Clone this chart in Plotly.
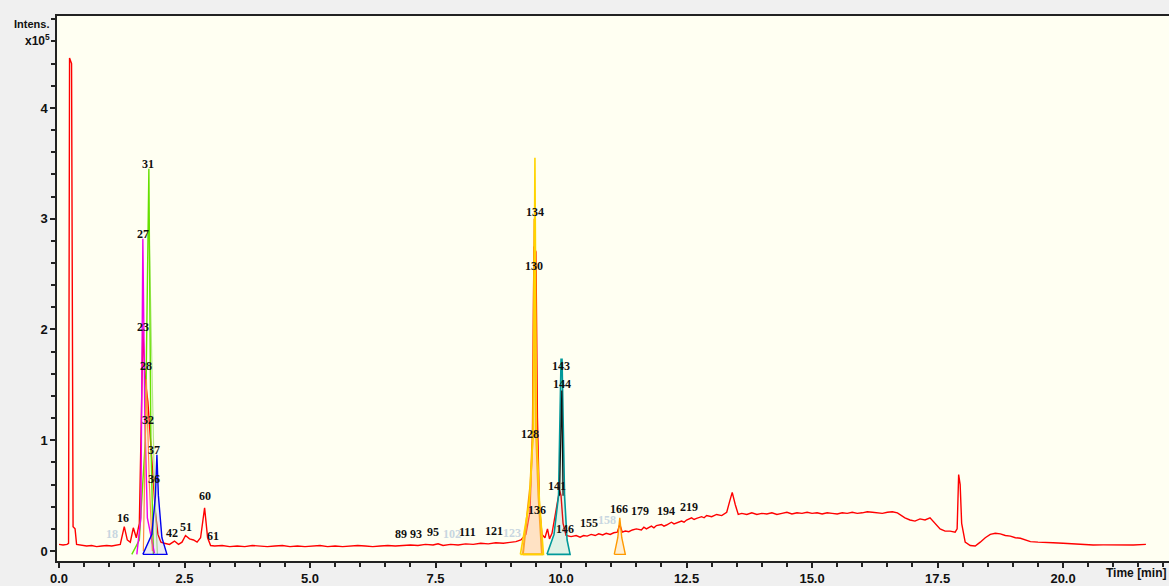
import plotly.graph_objects as go

# ---- Total ion chromatogram (red), time in min, intensity in 1e5 counts ----
tic_time = [0.00, 0.08, 0.16, 0.19, 0.21, 0.25, 0.28, 0.32, 0.35,
            0.45, 0.55, 0.65, 0.75, 0.85, 0.95, 1.05, 1.15, 1.22, 1.30, 1.36,
            1.42, 1.48, 1.54, 1.60, 1.64, 1.67, 1.70, 1.73, 1.77, 1.80, 1.84,
            1.88, 1.92, 1.97, 2.03, 2.10, 2.20, 2.30, 2.38, 2.45, 2.52, 2.60,
            2.68, 2.75, 2.82, 2.90, 2.96, 3.02,
            3.10, 3.25, 3.40, 3.55, 3.70, 3.85, 4.00, 4.15, 4.30, 4.45, 4.60,
            4.75, 4.90, 5.05, 5.20, 5.35, 5.50, 5.65, 5.80, 5.95, 6.10, 6.25,
            6.40, 6.55, 6.70, 6.85, 7.00, 7.15, 7.30, 7.45, 7.55, 7.65, 7.80,
            7.95, 8.10, 8.25, 8.40, 8.55, 8.70, 8.85, 9.00, 9.10, 9.20, 9.30,
            9.38, 9.43, 9.46, 9.50, 9.53, 9.57, 9.62, 9.68, 9.73, 9.77, 9.82,
            9.87, 9.92, 9.97, 10.00, 10.04, 10.10, 10.20, 10.30, 10.38, 10.45,
            10.52, 10.60, 10.68, 10.75, 10.83, 10.90, 10.98, 11.05, 11.12,
            11.17, 11.22, 11.28, 11.35, 11.42, 11.50, 11.60, 11.65, 11.70,
            11.80, 11.85, 11.90, 12.00, 12.05, 12.10, 12.20, 12.25, 12.30,
            12.40, 12.45, 12.50, 12.60, 12.65, 12.70, 12.80, 12.85, 12.90,
            13.00, 13.10, 13.20, 13.30, 13.36, 13.41, 13.47,
            13.53, 13.60, 13.70, 13.80, 13.90, 14.00, 14.10, 14.20, 14.30,
            14.40, 14.50, 14.60, 14.70, 14.80, 14.90, 15.00, 15.10, 15.20,
            15.30, 15.40, 15.50, 15.60, 15.70, 15.80, 15.90, 16.00, 16.10,
            16.20, 16.30, 16.40, 16.50, 16.60, 16.70, 16.75, 16.85, 16.95,
            17.05, 17.15, 17.25, 17.35, 17.45, 17.55, 17.65, 17.75, 17.85,
            17.89, 17.92, 17.95, 17.98, 18.05, 18.15, 18.25, 18.35, 18.45,
            18.55, 18.65, 18.75, 18.85, 18.95, 19.05, 19.15, 19.25, 19.35,
            19.50, 19.65, 19.80, 20.00, 20.20, 20.40, 20.60, 20.80, 21.00,
            21.20, 21.40, 21.65]
tic_int = [0.060, 0.055, 0.060, 0.070, 4.45, 4.40, 0.22, 0.20, 0.060,
           0.050, 0.045, 0.050, 0.040, 0.045, 0.050, 0.045, 0.050, 0.060, 0.22, 0.10,
           0.080, 0.21, 0.12, 0.25, 1.20, 2.00, 1.70, 1.50, 1.35, 1.15, 0.90,
           0.60, 0.35, 0.15, 0.080, 0.070, 0.060, 0.090, 0.060, 0.080, 0.14, 0.11,
           0.10, 0.080, 0.12, 0.39, 0.12, 0.050,
           0.045, 0.050, 0.040, 0.045, 0.040, 0.050, 0.045, 0.040, 0.045, 0.050, 0.040,
           0.045, 0.040, 0.045, 0.050, 0.040, 0.045, 0.040, 0.045, 0.050, 0.045, 0.040,
           0.045, 0.050, 0.045, 0.050, 0.055, 0.050, 0.060, 0.055, 0.065, 0.050, 0.060,
           0.055, 0.065, 0.060, 0.070, 0.065, 0.075, 0.070, 0.080, 0.085, 0.10, 0.15,
           0.35, 1.00, 2.75, 2.70, 1.20, 0.40, 0.15, 0.12, 0.20, 0.11, 0.16,
           0.30, 0.40, 0.55, 0.50, 0.25, 0.14, 0.13, 0.14, 0.125, 0.14,
           0.135, 0.15, 0.14, 0.155, 0.145, 0.16, 0.15, 0.165, 0.17,
           0.24, 0.17, 0.18, 0.175, 0.19, 0.20, 0.19, 0.215, 0.20,
           0.225, 0.21, 0.23, 0.24, 0.225, 0.235, 0.26, 0.245, 0.255,
           0.27, 0.26, 0.28, 0.30, 0.285, 0.295, 0.31, 0.30, 0.32,
           0.31, 0.33, 0.32, 0.35, 0.45, 0.53, 0.42,
           0.33, 0.34, 0.33, 0.345, 0.33, 0.34, 0.335, 0.345, 0.33,
           0.34, 0.35, 0.335, 0.345, 0.34, 0.35, 0.34, 0.345, 0.335,
           0.345, 0.34, 0.335, 0.345, 0.34, 0.35, 0.34, 0.345, 0.355,
           0.35, 0.345, 0.34, 0.35, 0.355, 0.345, 0.33, 0.30, 0.28,
           0.27, 0.29, 0.28, 0.30, 0.25, 0.20, 0.18, 0.18, 0.17,
           0.20, 0.69, 0.60, 0.25, 0.08, 0.05, 0.045, 0.08, 0.12,
           0.15, 0.16, 0.155, 0.14, 0.135, 0.12, 0.115, 0.10, 0.085,
           0.080, 0.080, 0.075, 0.070, 0.065, 0.058, 0.055, 0.056, 0.055,
           0.056, 0.055, 0.060]

# ---- Extracted ion chromatograms (closed outlines) ----
eic_green_t = [1.45, 1.60, 1.72, 1.79, 1.83, 1.88]
eic_green_v = [-0.03, 0.10, 1.00, 3.45, 1.00, -0.03]
eic_palegreen_t = [1.79, 1.84, 1.90, 1.96]
eic_palegreen_v = [3.00, 2.00, 0.60, -0.03]
eic_magenta_t = [1.55, 1.63, 1.67, 1.71, 1.76, 1.90]
eic_magenta_v = [-0.03, 0.30, 2.82, 1.20, 0.30, -0.02]
eic_salmon_t = [1.68, 1.74, 1.80, 1.86]
eic_salmon_v = [0.00, 1.55, 0.60, 0.00]
eic_blue_t = [1.67, 1.85, 1.92, 1.95, 1.98, 2.05, 2.15, 1.67]
eic_blue_v = [-0.03, 0.15, 0.50, 0.87, 0.50, 0.12, -0.03, -0.03]
eic_orange_t = [9.24, 9.39, 9.44, 9.47, 9.50, 9.55, 9.62, 9.24]
eic_orange_v = [-0.03, 0.60, 1.10, 3.00, 1.10, 0.50, -0.03, -0.03]
eic_yellow_t = [9.19, 9.37, 9.45, 9.48, 9.51, 9.57, 9.65, 9.19]
eic_yellow_v = [-0.03, 0.45, 1.10, 3.55, 1.10, 0.45, -0.03, -0.03]
eic_teal_t = [9.72, 9.86, 9.95, 10.00, 10.02, 10.07, 10.12, 10.18, 9.72]
eic_teal_v = [-0.03, 0.15, 0.50, 1.73, 1.73, 0.50, 0.10, -0.03, -0.03]
eic_black_t = [9.97, 10.005, 10.015, 10.04]
eic_black_v = [0.50, 1.45, 1.45, 0.50]
eic_small_t = [11.06, 11.13, 11.17, 11.21, 11.28, 11.06]
eic_small_v = [-0.03, 0.12, 0.30, 0.12, -0.03, -0.03]

# ---- Compound number labels (time, intensity) ----
lab_text = ["16", "31", "27", "23", "28", "32", "37", "36", "42", "51", "60", "61",
            "89", "93", "95", "111", "121", "134", "130", "128", "136", "141",
            "143", "144", "146", "155", "166", "179", "194", "219"]
lab_t = [1.27, 1.77, 1.67, 1.67, 1.73, 1.77, 1.89, 1.89, 2.25, 2.53, 2.91, 3.07,
         6.81, 7.11, 7.45, 8.13, 8.67, 9.48, 9.46, 9.38, 9.52, 9.92,
         10.00, 10.02, 10.08, 10.56, 11.16, 11.57, 12.09, 12.55]
lab_v = [0.30, 3.49, 2.86, 2.02, 1.67, 1.18, 0.91, 0.65, 0.16, 0.22, 0.50, 0.14,
         0.15, 0.15, 0.17, 0.17, 0.18, 3.06, 2.57, 1.06, 0.37, 0.59,
         1.67, 1.51, 0.20, 0.25, 0.38, 0.36, 0.36, 0.40]
faint_text = ["18", "102", "123", "158"]
faint_t = [1.06, 7.83, 9.02, 10.92]
faint_v = [0.15, 0.15, 0.16, 0.28]

fig = go.Figure()

fig.add_trace(go.Scatter(x=tic_time, y=tic_int, mode="lines",
                         line=dict(color="#ff0000", width=1.4)))

def eic(t, v, color, width=1.2, fill=None):
    kw = dict(x=t, y=v, mode="lines", line=dict(color=color, width=width))
    if fill:
        kw.update(fill="toself", fillcolor=fill)
    fig.add_trace(go.Scatter(**kw))

eic(eic_palegreen_t, eic_palegreen_v, "#b6e88a")
eic(eic_green_t, eic_green_v, "#66e000", 1.4)
eic(eic_magenta_t, eic_magenta_v, "#ee00ee", 1.4)
eic(eic_salmon_t, eic_salmon_v, "#ff8c40")
eic(eic_blue_t, eic_blue_v, "#0000ee", 1.4, "rgba(0,0,238,0.08)")
eic(eic_orange_t, eic_orange_v, "#ff9a00", 2.0, "rgba(255,170,110,0.25)")
eic(eic_yellow_t, eic_yellow_v, "#ffd400", 1.6, "rgba(255,205,160,0.25)")
eic(eic_teal_t, eic_teal_v, "#00999a", 1.6, "rgba(0,150,150,0.12)")
eic(eic_black_t, eic_black_v, "#111111", 1.2)
eic(eic_small_t, eic_small_v, "#ff9a00", 1.4, "rgba(255,190,120,0.25)")

label_font = dict(family="Liberation Serif", size=12, color="#111111", weight="bold")
annotations = []
for txt, t, v in zip(lab_text, lab_t, lab_v):
    annotations.append(dict(x=t, y=v, text=txt, showarrow=False, xref="x", yref="y",
                            font=label_font))
for txt, t, v in zip(faint_text, faint_t, faint_v):
    annotations.append(dict(x=t, y=v, text=txt, showarrow=False, xref="x", yref="y",
                            font=dict(family="Liberation Serif", size=12,
                                      color="#c8d6e0", weight="bold")))
side_font = dict(family="Liberation Sans Narrow, Liberation Sans", size=12,
                 color="#111111", weight="bold")
annotations += [
    dict(x=0, y=1, xref="paper", yref="paper", xanchor="right", yanchor="top",
         xshift=-6, yshift=0, text="Intens.", showarrow=False,
         font=dict(family="Liberation Sans Narrow, Liberation Sans", size=11,
                   color="#111111", weight="bold")),
    dict(x=0, y=1, xref="paper", yref="paper", xanchor="right", yanchor="top",
         xshift=-5, yshift=-14, text="x10<sup>5</sup>", showarrow=False,
         font=side_font),
    dict(x=1, y=0, xref="paper", yref="paper", xanchor="right", yanchor="top",
         xshift=-1, yshift=-3, text="Time [min]", showarrow=False,
         font=side_font),
]

tick_font = dict(family="Liberation Sans Narrow, Liberation Sans", size=13,
                 color="#111111", weight="bold")

fig.update_layout(
    width=1169, height=586,
    margin=dict(l=57, r=0, t=16, b=21),
    paper_bgcolor="#f0f0f0",
    plot_bgcolor="#fffff2",
    showlegend=False,
    annotations=annotations,
    xaxis=dict(range=[-0.04, 22.11], showgrid=False, zeroline=False,
               showline=True, linecolor="#222222", linewidth=1.5, mirror=True,
               ticks="outside", ticklen=5, tickwidth=1.5, tickcolor="#222222",
               tick0=0, dtick=2.5, tickformat=".1f", tickfont=tick_font,
               minor=dict(dtick=0.5, ticks="outside", ticklen=4, tickwidth=1.5,
                          tickcolor="#222222")),
    yaxis=dict(range=[-0.09, 4.83], showgrid=False, zeroline=False,
               showline=True, linecolor="#222222", linewidth=1.5,
               ticks="outside", ticklen=5, tickwidth=1.5, tickcolor="#222222",
               tick0=0, dtick=1, tickfont=tick_font,
               minor=dict(dtick=0.2, ticks="outside", ticklen=4, tickwidth=1.5,
                          tickcolor="#222222")),
)

fig.write_html("out.html")
